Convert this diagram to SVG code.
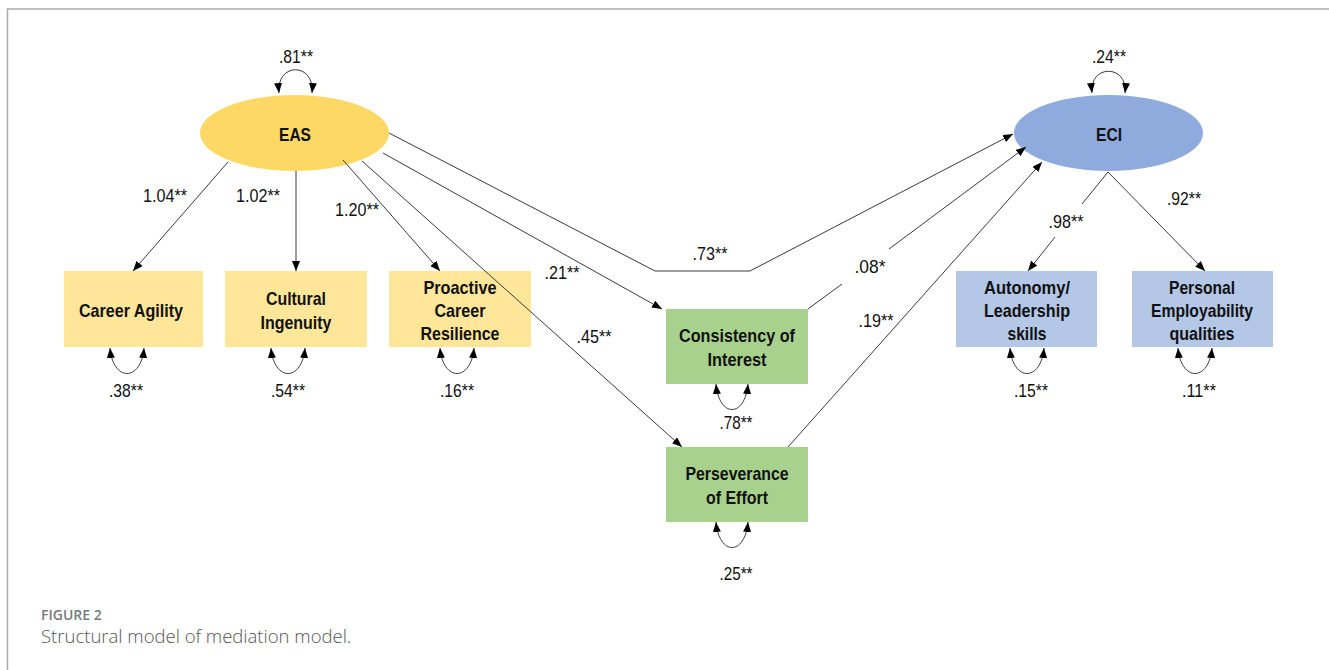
<svg xmlns="http://www.w3.org/2000/svg" width="1329" height="670" viewBox="0 0 1329 670">
<defs>
<marker id="ah" viewBox="0 0 10 8" refX="10" refY="4" markerWidth="10" markerHeight="8" markerUnits="userSpaceOnUse" orient="auto-start-reverse">
<path d="M0,0 L10,4 L0,8 z" fill="#000"/>
</marker>
<style>
.ln{fill:none;stroke:#3a3a3a;stroke-width:1}
.arr{fill:none;stroke:#3a3a3a;stroke-width:1;marker-end:url(#ah)}
.loop{fill:none;stroke:#3a3a3a;stroke-width:1;marker-start:url(#ah);marker-end:url(#ah)}
.bt{font-family:"Liberation Sans",Arial,sans-serif;font-weight:bold;font-size:19px;fill:#111;text-anchor:middle}
.nm{font-family:"Liberation Sans",Arial,sans-serif;font-size:18.5px;fill:#111;text-anchor:middle}
.frame{fill:none;stroke:#aaa;stroke-width:1.5}
</style>
</defs>
<rect x="0" y="0" width="1329" height="670" fill="#fff"/>
<path class="frame" d="M7.5,670 V9 H1329"/>

<g id="EAS">
<ellipse cx="294.5" cy="133" rx="94.5" ry="38" fill="#FDD865"/>
<text class="bt" x="295" y="141" textLength="32" lengthAdjust="spacingAndGlyphs">EAS</text>
</g>
<g id="ECI">
<ellipse cx="1108.5" cy="133" rx="94.5" ry="38" fill="#8FAADC"/>
<text class="bt" x="1109" y="141" textLength="26" lengthAdjust="spacingAndGlyphs">ECI</text>
</g>

<g id="career-agility">
<rect x="64" y="271" width="139" height="76" fill="#FFE699"/>
<text class="bt" x="131" y="317" textLength="104" lengthAdjust="spacingAndGlyphs">Career Agility</text>
</g>
<g id="cultural-ingenuity">
<rect x="225" y="271" width="142" height="76" fill="#FFE699"/>
<text class="bt" x="296" y="305" textLength="60" lengthAdjust="spacingAndGlyphs">Cultural</text>
<text class="bt" x="296" y="329" textLength="71" lengthAdjust="spacingAndGlyphs">Ingenuity</text>
</g>
<g id="proactive-career-resilience">
<rect x="389" y="271" width="142" height="76" fill="#FFE699"/>
<text class="bt" x="460" y="294" textLength="73" lengthAdjust="spacingAndGlyphs">Proactive</text>
<text class="bt" x="460" y="317" textLength="51" lengthAdjust="spacingAndGlyphs">Career</text>
<text class="bt" x="460" y="340" textLength="79" lengthAdjust="spacingAndGlyphs">Resilience</text>
</g>
<g id="consistency-of-interest">
<rect x="666" y="309" width="142" height="75" fill="#A9D18E"/>
<text class="bt" x="737" y="342" textLength="116" lengthAdjust="spacingAndGlyphs">Consistency of</text>
<text class="bt" x="737" y="366" textLength="59" lengthAdjust="spacingAndGlyphs">Interest</text>
</g>
<g id="perseverance-of-effort">
<rect x="666" y="447" width="142" height="75" fill="#A9D18E"/>
<text class="bt" x="737" y="480" textLength="103" lengthAdjust="spacingAndGlyphs">Perseverance</text>
<text class="bt" x="737" y="504" textLength="62" lengthAdjust="spacingAndGlyphs">of Effort</text>
</g>
<g id="autonomy-leadership-skills">
<rect x="956" y="271" width="141" height="76" fill="#B4C7E7"/>
<text class="bt" x="1027" y="294" textLength="86" lengthAdjust="spacingAndGlyphs">Autonomy/</text>
<text class="bt" x="1027" y="317" textLength="86" lengthAdjust="spacingAndGlyphs">Leadership</text>
<text class="bt" x="1027" y="340" textLength="39" lengthAdjust="spacingAndGlyphs">skills</text>
</g>
<g id="personal-employability-qualities">
<rect x="1132" y="271" width="141" height="76" fill="#B4C7E7"/>
<text class="bt" x="1202" y="294" textLength="66" lengthAdjust="spacingAndGlyphs">Personal</text>
<text class="bt" x="1202" y="317" textLength="102" lengthAdjust="spacingAndGlyphs">Employability</text>
<text class="bt" x="1202" y="340" textLength="65" lengthAdjust="spacingAndGlyphs">qualities</text>
</g>

<g id="connectors">
<path class="arr" d="M228,162 L133,271"/>
<path class="arr" d="M296,171 L296,271"/>
<path class="arr" d="M343,160 L440,271"/>
<path class="arr" d="M362,161 L682,447"/>
<path class="arr" d="M383,153 L662,309"/>
<path class="arr" d="M389,133 L655,271 L750,271 L1013,134"/>
<path class="ln" d="M808,309 L842,284"/>
<path class="arr" d="M889,249 L1026,147"/>
<path class="arr" d="M788,447 L1042,162"/>
<path class="ln" d="M1108,172 L1082,204"/>
<path class="arr" d="M1055,237 L1028,271"/>
<path class="arr" d="M1108,172 L1205,271"/>
<path class="loop" d="M279,93 C276,62 315,62 312,93"/>
<path class="loop" d="M1092,93 C1089,64 1128,64 1125,93"/>
<path class="loop" d="M110,348 C113,382 141,382 144,348"/>
<path class="loop" d="M271,348 C274,382 302,382 305,348"/>
<path class="loop" d="M440,348 C443,382 471,382 474,348"/>
<path class="loop" d="M716,384 C719,418 745,418 748,384"/>
<path class="loop" d="M716,522 C719,556 745,556 748,522"/>
<path class="loop" d="M1010,348 C1013,382 1041,382 1044,348"/>
<path class="loop" d="M1178,348 C1181,382 1209,382 1212,348"/>
</g>

<g id="labels">
<text class="nm" x="296" y="63" textLength="34" lengthAdjust="spacingAndGlyphs">.81**</text>
<text class="nm" x="1109" y="63" textLength="34" lengthAdjust="spacingAndGlyphs">.24**</text>
<text class="nm" x="165" y="202" textLength="44" lengthAdjust="spacingAndGlyphs">1.04**</text>
<text class="nm" x="258" y="202" textLength="44" lengthAdjust="spacingAndGlyphs">1.02**</text>
<text class="nm" x="357" y="216" textLength="44" lengthAdjust="spacingAndGlyphs">1.20**</text>
<text class="nm" x="562" y="279" textLength="35" lengthAdjust="spacingAndGlyphs">.21**</text>
<text class="nm" x="710" y="260" textLength="35" lengthAdjust="spacingAndGlyphs">.73**</text>
<text class="nm" x="594" y="343" textLength="35" lengthAdjust="spacingAndGlyphs">.45**</text>
<text class="nm" x="870" y="273" textLength="31" lengthAdjust="spacingAndGlyphs">.08*</text>
<text class="nm" x="876" y="327" textLength="35" lengthAdjust="spacingAndGlyphs">.19**</text>
<text class="nm" x="1066" y="228" textLength="35" lengthAdjust="spacingAndGlyphs">.98**</text>
<text class="nm" x="1184" y="205" textLength="34" lengthAdjust="spacingAndGlyphs">.92**</text>
<text class="nm" x="126" y="397" textLength="34" lengthAdjust="spacingAndGlyphs">.38**</text>
<text class="nm" x="288" y="397" textLength="34" lengthAdjust="spacingAndGlyphs">.54**</text>
<text class="nm" x="457" y="397" textLength="34" lengthAdjust="spacingAndGlyphs">.16**</text>
<text class="nm" x="736" y="429" textLength="33" lengthAdjust="spacingAndGlyphs">.78**</text>
<text class="nm" x="736" y="580" textLength="33" lengthAdjust="spacingAndGlyphs">.25**</text>
<text class="nm" x="1031" y="397" textLength="34" lengthAdjust="spacingAndGlyphs">.15**</text>
<text class="nm" x="1199" y="397" textLength="34" lengthAdjust="spacingAndGlyphs">.11**</text>
</g>

<g id="caption">
<text x="41" y="620" font-family="'Open Sans',sans-serif" font-weight="600" font-size="14" fill="#7a7a7a">FIGURE 2</text>
<text x="41" y="643" font-family="'Open Sans',sans-serif" font-weight="300" font-size="18.5" fill="#555">Structural model of mediation model.</text>
</g>
</svg>
